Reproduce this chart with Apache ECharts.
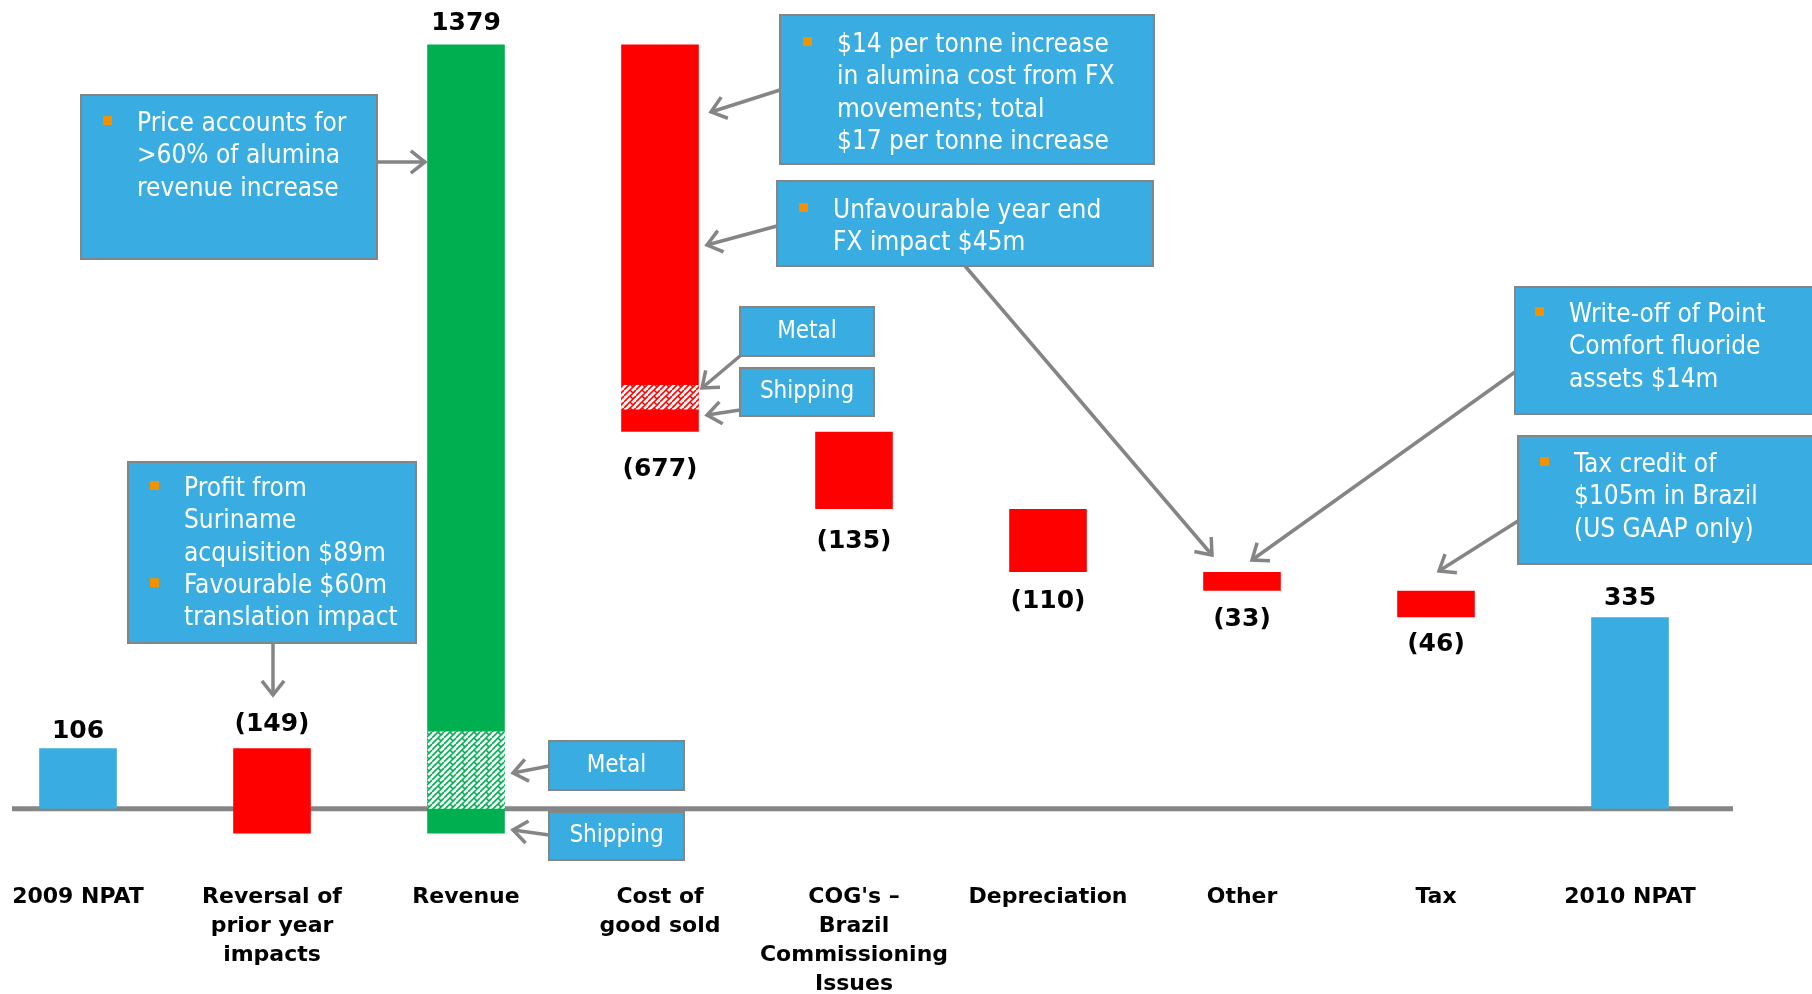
<!DOCTYPE html>
<html>
<head>
<meta charset="utf-8">
<title>NPAT 2009 to 2010</title>
<script src="https://cdn.jsdelivr.net/npm/echarts@6/dist/echarts.min.js"></script>
<style>
html,body{margin:0;padding:0;background:#fff;}
#chart{width:1812px;height:994px;}
</style>
</head>
<body>
<div id="chart"></div>
<script>
// NPAT bridge, US$m
var categories = ['2009 NPAT', 'Reversal of\nprior year\nimpacts', 'Revenue', 'Cost of\ngood sold',
  "COG's \u2013\nBrazil\nCommissioning\nIssues", 'Depreciation', 'Other', 'Tax', '2010 NPAT'];
var changes = [106, -149, 1379, -677, -135, -110, -33, -46, 335];
var isTotal = [true, false, false, false, false, false, false, false, true];
var valueLabels = ['106', '(149)', '1379', '(677)', '(135)', '(110)', '(33)', '(46)', '335'];
// hatched "Metal" slices inside the revenue and cost bars: [category, from, to]
var metalSlices = [[2, 0, 135], [3, 698, 741]];

// label distance from bar edge (neg = above top, pos = below bottom)
var labelDy = [-17, -24, -21, 38, 32, 30, 29, 27, -19];

var BLUE = '#39ACE1', GREEN = '#00B050', RED = '#FF0000', GREY = '#858585', ORANGE = '#F39200';
var BOX_FONT = '26px "DejaVu Sans Condensed", "DejaVu Sans", sans-serif';
var TAG_FONT = '24px "DejaVu Sans Condensed", "DejaVu Sans", sans-serif';

// running totals -> floating bars
var bars = [];
var running = 0;
changes.forEach(function (v, i) {
  if (isTotal[i]) {
    running = v;
    bars.push([i, 0, v, v]);
  } else {
    var start = running;
    running += v;
    bars.push([i, Math.min(start, running), Math.max(start, running), v]);
  }
});

function makeHatch(color) {
  var c = document.createElement('canvas');
  c.width = 12; c.height = 12;
  var ctx = c.getContext('2d');
  ctx.fillStyle = '#fff';
  ctx.fillRect(0, 0, 12, 12);
  ctx.strokeStyle = color;
  ctx.lineWidth = 1.7;
  ctx.beginPath();
  // zigzag weave
  for (var k = -12; k <= 12; k += 6) {
    ctx.moveTo(0, k + 6); ctx.lineTo(6, k);
    ctx.moveTo(6, k + 12); ctx.lineTo(12, k + 6);
    ctx.moveTo(6, k); ctx.lineTo(9, k + 3);
  }
  ctx.stroke();
  return c;
}
var hatchGreen = makeHatch(GREEN), hatchRed = makeHatch(RED);

function renderBar(params, api) {
  var i = api.value(0);
  var top = api.coord([i, api.value(2)]);
  var bottom = api.coord([i, api.value(1)]);
  var w = api.size([1, 0])[0] * 0.4;
  var v = api.value(3);
  var color = isTotal[i] ? BLUE : (v >= 0 ? GREEN : RED);
  var dy = labelDy[i];
  var ly = dy < 0 ? top[1] + dy : bottom[1] + dy;
  return {
    type: 'group',
    children: [
      {type: 'rect', shape: {x: top[0] - w / 2, y: top[1], width: w, height: bottom[1] - top[1]}, style: {fill: color}},
      {type: 'text', style: {text: valueLabels[i], x: top[0], y: ly, align: 'center', verticalAlign: 'middle',
        font: 'bold 25px "DejaVu Sans", sans-serif', fill: '#000'}}
    ]
  };
}

function renderSlice(params, api) {
  var i = api.value(0);
  var top = api.coord([i, api.value(2)]);
  var bottom = api.coord([i, api.value(1)]);
  var w = api.size([1, 0])[0] * 0.4;
  return {
    type: 'rect',
    shape: {x: top[0] - w / 2, y: top[1], width: w, height: bottom[1] - top[1]},
    style: {fill: {image: changes[i] >= 0 ? hatchGreen : hatchRed, repeat: 'repeat'}}
  };
}

var chart = echarts.init(document.getElementById('chart'));
chart.setOption({
  animation: false,
  grid: {left: 78, right: 182, top: 8, bottom: 128, outerBoundsMode: 'none', containLabel: false},
  xAxis: {
    type: 'category',
    data: categories,
    boundaryGap: false,
    axisLine: {show: false, onZero: false},
    axisTick: {show: false},
    axisLabel: {
      interval: 0, margin: 17, color: '#000', fontSize: 22, fontWeight: 'bold',
      fontFamily: 'DejaVu Sans', lineHeight: 29, align: 'center'
    }
  },
  yAxis: {type: 'value', min: -100, max: 1400, show: false, splitLine: {show: false}},
  series: [
    {type: 'custom', name: 'bars', renderItem: renderBar, data: bars, z: 2},
    {type: 'custom', name: 'metal', renderItem: renderSlice, data: metalSlices, z: 3}
  ]
});

// ---- annotations ----
var boxes = [
  {x: 81, y: 95, w: 296, h: 164, tx: 137, ty: 124, bullets: [0],
    lines: ['Price accounts for', '>60% of alumina', 'revenue increase']},
  {x: 780, y: 15, w: 374, h: 149, tx: 837, ty: 45, bullets: [0],
    lines: ['$14 per tonne increase', 'in alumina cost from FX', 'movements; total', '$17 per tonne increase']},
  {x: 777, y: 181, w: 376, h: 85, tx: 833, ty: 211, bullets: [0],
    lines: ['Unfavourable year end', 'FX impact $45m']},
  {x: 128, y: 462, w: 288, h: 181, tx: 184, ty: 489, bullets: [0, 3],
    lines: ['Profit from', 'Suriname', 'acquisition $89m', 'Favourable $60m', 'translation impact']},
  {x: 1515, y: 287, w: 320, h: 127, tx: 1569, ty: 315, bullets: [0],
    lines: ['Write-off of Point', 'Comfort fluoride', 'assets $14m']},
  {x: 1518, y: 436, w: 320, h: 128, tx: 1574, ty: 465, bullets: [0],
    lines: ['Tax credit of', '$105m in Brazil', '(US GAAP only)']}
];
var tags = [
  {x: 740, y: 307, w: 134, h: 49, text: 'Metal'},
  {x: 740, y: 368, w: 134, h: 48, text: 'Shipping'},
  {x: 549, y: 741, w: 135, h: 49, text: 'Metal'},
  {x: 549, y: 812, w: 135, h: 48, text: 'Shipping'}
];
var arrows = [
  [377, 162, 425, 162], [780, 90, 711, 112], [777, 226, 707, 245],
  [740, 356, 702, 388], [740, 410, 707, 415], [549, 766, 513, 773], [549, 835, 513, 830],
  [273, 643, 273, 695], [965, 266, 1212, 555], [1515, 372, 1252, 560], [1518, 521, 1439, 571]
];

var graphics = [];
var y0 = chart.convertToPixel({yAxisIndex: 0}, 0);
graphics.push({type: 'line', z: 0, shape: {x1: 12, y1: y0, x2: 1733, y2: y0}, style: {stroke: GREY, lineWidth: 5}});

boxes.forEach(function (b) {
  graphics.push({type: 'rect', z: 100, shape: {x: b.x, y: b.y, width: b.w, height: b.h},
    style: {fill: BLUE, stroke: GREY, lineWidth: 2}});
  b.bullets.forEach(function (n) {
    graphics.push({type: 'rect', z: 101, shape: {x: b.tx - 34, y: b.ty + n * 32.4 - 8, width: 9, height: 9},
      style: {fill: ORANGE}});
  });
  graphics.push({type: 'text', z: 101, x: b.tx, y: b.ty - 16.2,
    style: {text: b.lines.join('\n'), fill: '#fff', font: BOX_FONT, lineHeight: 32.4, verticalAlign: 'top', align: 'left'}});
});
tags.forEach(function (t) {
  graphics.push({type: 'rect', z: 100, shape: {x: t.x, y: t.y, width: t.w, height: t.h},
    style: {fill: BLUE, stroke: GREY, lineWidth: 2}});
  graphics.push({type: 'text', z: 101, x: t.x + t.w / 2, y: t.y + t.h / 2,
    style: {text: t.text, fill: '#fff', font: TAG_FONT, align: 'center', verticalAlign: 'middle'}});
});
arrows.forEach(function (a) {
  var ang = Math.atan2(a[3] - a[1], a[2] - a[0]);
  var L = 18, th = 38 * Math.PI / 180;
  var p1 = [a[2] - L * Math.cos(ang - th), a[3] - L * Math.sin(ang - th)];
  var p2 = [a[2] - L * Math.cos(ang + th), a[3] - L * Math.sin(ang + th)];
  graphics.push({type: 'polyline', z: 99, shape: {points: [[a[0], a[1]], [a[2], a[3]]]},
    style: {stroke: GREY, lineWidth: 3.5, fill: null}});
  graphics.push({type: 'polyline', z: 99, shape: {points: [p1, [a[2], a[3]], p2]},
    style: {stroke: GREY, lineWidth: 3.5, fill: null, lineJoin: 'miter'}});
});
chart.setOption({graphic: graphics});
</script>
</body>
</html>
